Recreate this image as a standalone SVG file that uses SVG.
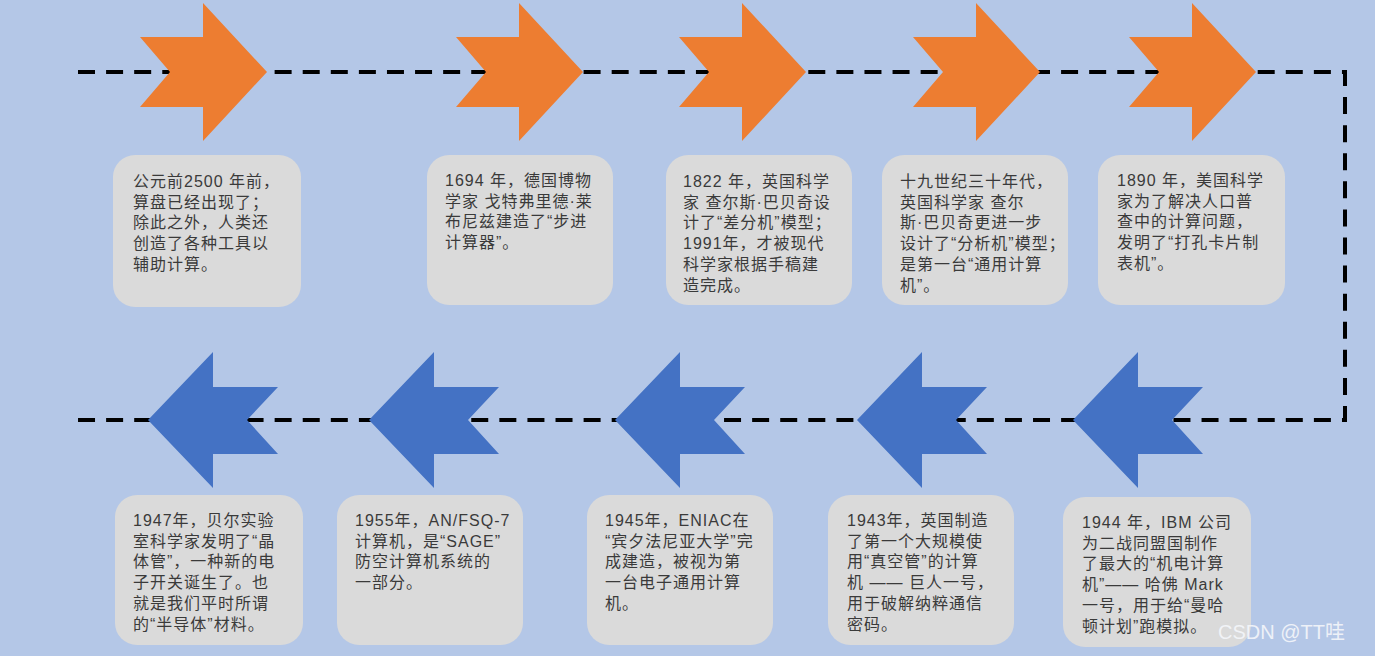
<svg xmlns="http://www.w3.org/2000/svg" xmlns:xlink="http://www.w3.org/1999/xlink" width="1375" height="656" viewBox="0 0 1375 656">
<style>
.bg{fill:#b4c7e7}
.box{fill:#dadada}
.t{font-family:"Liberation Sans","Noto Sans CJK SC",sans-serif;font-size:16px;letter-spacing:1px;fill:#3a3a3a}
.or{fill:#ed7d31}
.bl{fill:#4472c4}
.dash{fill:none;stroke:#000;stroke-width:4;stroke-dasharray:17 11.088}
.wm{font-family:"Liberation Sans","Noto Sans CJK SC",sans-serif;font-size:20px;fill:#f4f6fa;opacity:0.9}
</style>
<defs>
<path id="arrR" d="M0,-35 L63,-35 L63,-69 L127,0 L63,69 L63,35 L0,35 L30,0 Z"/>
<path id="arrL" d="M0,0 L65,-68 L65,-33 L130,-33 L99,0 L130,34 L65,34 L65,68 Z"/>
</defs>
<rect class="bg" x="0" y="0" width="1375" height="656"/>
<g id="connectors">
<path class="dash" d="M78,72 H1345 V420 H78"/>
</g>
<g id="arrow-top-1"><use xlink:href="#arrR" href="#arrR" class="or" x="140" y="72"/></g>
<g id="arrow-top-2"><use xlink:href="#arrR" href="#arrR" class="or" x="456" y="72"/></g>
<g id="arrow-top-3"><use xlink:href="#arrR" href="#arrR" class="or" x="679" y="72"/></g>
<g id="arrow-top-4"><use xlink:href="#arrR" href="#arrR" class="or" x="913" y="72"/></g>
<g id="arrow-top-5"><use xlink:href="#arrR" href="#arrR" class="or" x="1129" y="72"/></g>
<g id="arrow-bot-1"><use xlink:href="#arrL" href="#arrL" class="bl" x="148" y="420"/></g>
<g id="arrow-bot-2"><use xlink:href="#arrL" href="#arrL" class="bl" x="369" y="420"/></g>
<g id="arrow-bot-3"><use xlink:href="#arrL" href="#arrL" class="bl" x="615" y="420"/></g>
<g id="arrow-bot-4"><use xlink:href="#arrL" href="#arrL" class="bl" x="857" y="420"/></g>
<g id="arrow-bot-5"><use xlink:href="#arrL" href="#arrL" class="bl" x="1073" y="420"/></g>

<g id="box-2500bc">
<rect class="box" x="113" y="155" width="188" height="152" rx="22"/>
<text class="t" x="133" y="187"><tspan x="133">公元前2500 年前，</tspan><tspan x="133" dy="20.7">算盘已经出现了；</tspan><tspan x="133" dy="20.7">除此之外，人类还</tspan><tspan x="133" dy="20.7">创造了各种工具以</tspan><tspan x="133" dy="20.7">辅助计算。</tspan></text>
</g>
<g id="box-1694">
<rect class="box" x="427" y="155" width="186" height="150" rx="22"/>
<text class="t" x="445" y="186"><tspan x="445">1694 年，德国博物</tspan><tspan x="445" dy="20.7">学家 戈特弗里德·莱</tspan><tspan x="445" dy="20.7">布尼兹建造了“步进</tspan><tspan x="445" dy="20.7">计算器”。</tspan></text>
</g>
<g id="box-1822">
<rect class="box" x="666" y="155" width="186" height="150" rx="22"/>
<text class="t" x="683" y="187"><tspan x="683">1822 年，英国科学</tspan><tspan x="683" dy="20.7">家 查尔斯·巴贝奇设</tspan><tspan x="683" dy="20.7">计了“差分机”模型；</tspan><tspan x="683" dy="20.7">1991年，才被现代</tspan><tspan x="683" dy="20.7">科学家根据手稿建</tspan><tspan x="683" dy="20.7">造完成。</tspan></text>
</g>
<g id="box-1830s">
<rect class="box" x="882" y="155" width="186" height="150" rx="22"/>
<text class="t" x="900" y="187"><tspan x="900">十九世纪三十年代，</tspan><tspan x="900" dy="20.7">英国科学家 查尔</tspan><tspan x="900" dy="20.7">斯·巴贝奇更进一步</tspan><tspan x="900" dy="20.7">设计了“分析机”模型；</tspan><tspan x="900" dy="20.7">是第一台“通用计算</tspan><tspan x="900" dy="20.7">机”。</tspan></text>
</g>
<g id="box-1890">
<rect class="box" x="1098" y="155" width="187" height="150" rx="22"/>
<text class="t" x="1117" y="186"><tspan x="1117">1890 年，美国科学</tspan><tspan x="1117" dy="20.7">家为了解决人口普</tspan><tspan x="1117" dy="20.7">查中的计算问题，</tspan><tspan x="1117" dy="20.7">发明了“打孔卡片制</tspan><tspan x="1117" dy="20.7">表机”。</tspan></text>
</g>

<g id="box-1947">
<rect class="box" x="115" y="495" width="188" height="150" rx="22"/>
<text class="t" x="133" y="526"><tspan x="133">1947年，贝尔实验</tspan><tspan x="133" dy="20.7">室科学家发明了“晶</tspan><tspan x="133" dy="20.7">体管”，一种新的电</tspan><tspan x="133" dy="20.7">子开关诞生了。也</tspan><tspan x="133" dy="20.7">就是我们平时所谓</tspan><tspan x="133" dy="20.7">的“半导体”材料。</tspan></text>
</g>
<g id="box-1955">
<rect class="box" x="337" y="495" width="186" height="150" rx="22"/>
<text class="t" x="355" y="526"><tspan x="355">1955年，AN/FSQ-7</tspan><tspan x="355" dy="20.7">计算机，是“SAGE”</tspan><tspan x="355" dy="20.7">防空计算机系统的</tspan><tspan x="355" dy="20.7">一部分。</tspan></text>
</g>
<g id="box-1945">
<rect class="box" x="587" y="495" width="186" height="150" rx="22"/>
<text class="t" x="605" y="526"><tspan x="605">1945年，ENIAC在</tspan><tspan x="605" dy="20.7">“宾夕法尼亚大学”完</tspan><tspan x="605" dy="20.7">成建造，被视为第</tspan><tspan x="605" dy="20.7">一台电子通用计算</tspan><tspan x="605" dy="20.7">机。</tspan></text>
</g>
<g id="box-1943">
<rect class="box" x="828" y="495" width="186" height="150" rx="22"/>
<text class="t" x="847" y="526"><tspan x="847">1943年，英国制造</tspan><tspan x="847" dy="20.7">了第一个大规模使</tspan><tspan x="847" dy="20.7">用“真空管”的计算</tspan><tspan x="847" dy="20.7">机 —— 巨人一号，</tspan><tspan x="847" dy="20.7">用于破解纳粹通信</tspan><tspan x="847" dy="20.7">密码。</tspan></text>
</g>
<g id="box-1944">
<rect class="box" x="1063" y="497" width="188" height="150" rx="22"/>
<text class="t" x="1082" y="528"><tspan x="1082">1944 年，IBM 公司</tspan><tspan x="1082" dy="20.7">为二战同盟国制作</tspan><tspan x="1082" dy="20.7">了最大的“机电计算</tspan><tspan x="1082" dy="20.7">机”—— 哈佛 Mark</tspan><tspan x="1082" dy="20.7">一号，用于给“曼哈</tspan><tspan x="1082" dy="20.7">顿计划”跑模拟。</tspan></text>
</g>
<text class="wm" x="1218" y="639">CSDN @TT哇</text>
</svg>
